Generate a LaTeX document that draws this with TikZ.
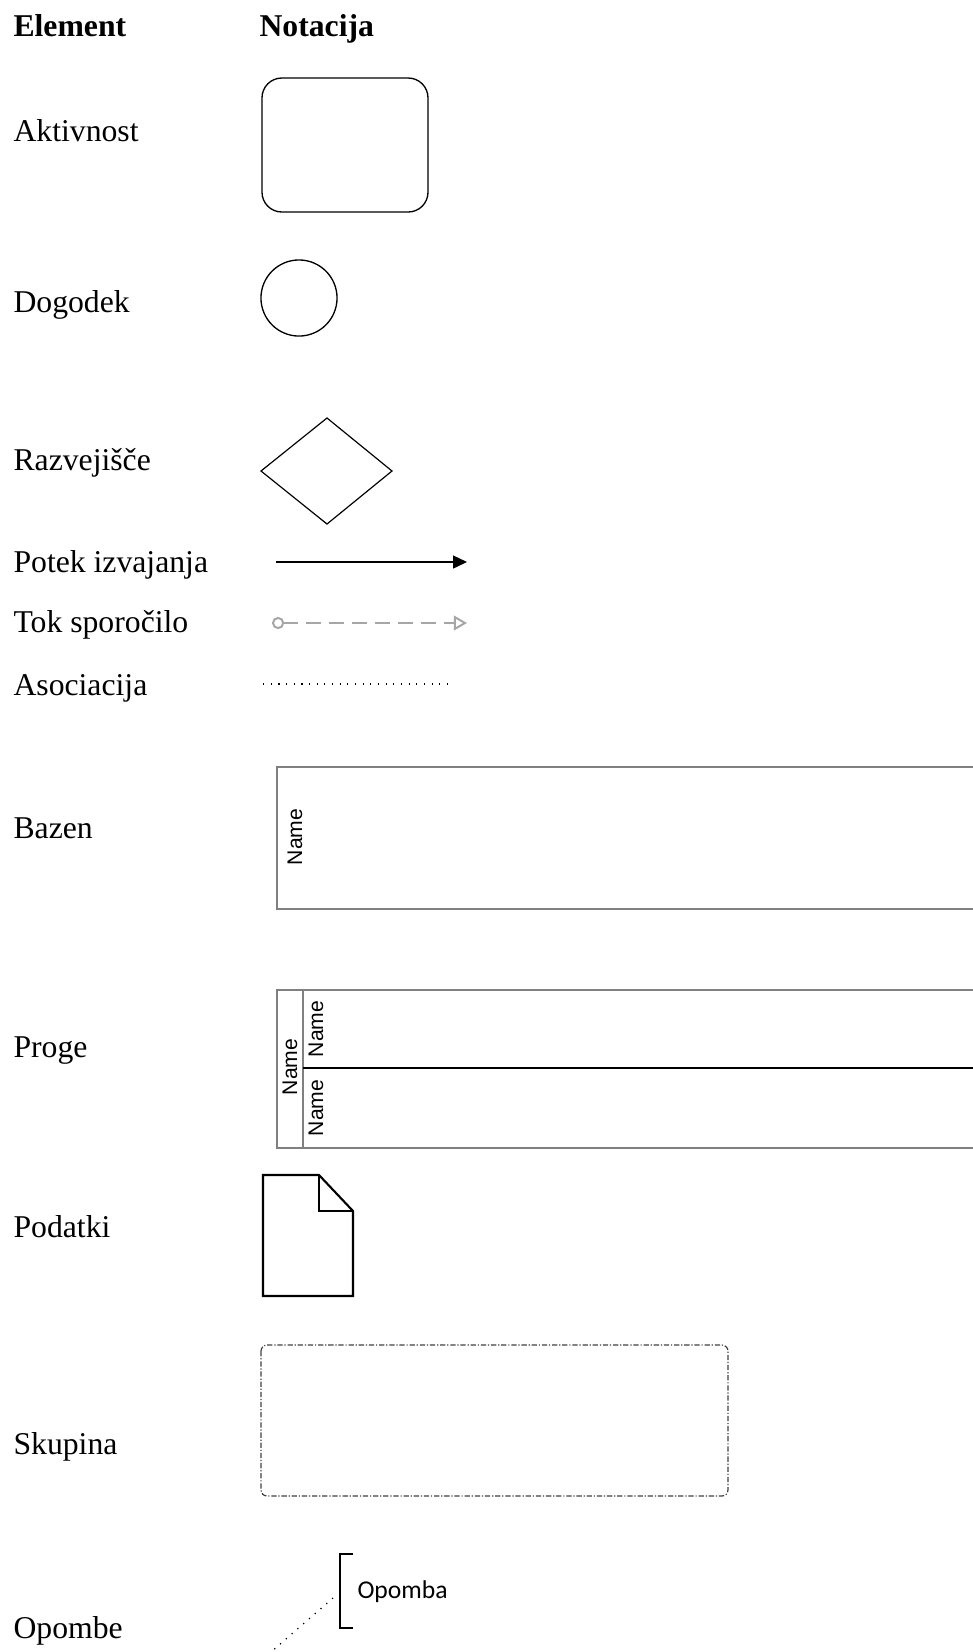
\documentclass[tikz,border=0pt]{standalone}
\usepackage{fontspec}
\setmainfont{Liberation Serif}
\newfontfamily\lanefont{Liberation Sans}
\newfontfamily\notefont{Carlito}
\usetikzlibrary{arrows.meta}

\begin{document}
\begin{tikzpicture}[x=0.3785pt,y=-0.3785pt,
    elem/.style={anchor=base west,inner sep=0pt,font=\fontsize{12}{14}\selectfont},
    head/.style={elem,font=\fontsize{12}{14}\selectfont\bfseries},
    lanename/.style={rotate=90,inner sep=0pt,font=\lanefont\fontsize{8}{9}\selectfont},
    poolline/.style={draw=black!50,line width=0.75pt},
    dots/.style={line width=0.45pt,dash pattern=on 0.45pt off 2.45pt}]
  \useasboundingbox (0,0) rectangle (973,1652);

  \node[head] (hElem) at (13,36) {Element};
  \node[head] (hNot) at (259,36) {Notacija};

  \node[elem] (lAkt) at (13,141) {Aktivnost};
  \draw[line width=0.5pt,rounded corners=7.5pt] (262,78) rectangle (428,212);

  \node[elem] (lDog) at (13,312) {Dogodek};
  \draw[line width=0.5pt] (299,298) circle (14.4pt);

  \node[elem] (lRaz) at (13,470) {Razvejišče};
  \draw[line width=0.45pt] (261,471) -- (327,418) -- (392,471) -- (327,524) -- cycle;

  \node[elem] (lPot) at (13,572) {Potek izvajanja};
  \coordinate (potA) at (276,562);
  \coordinate (potB) at (467,562);
  \draw[line width=0.6pt,-{Triangle[length=5.3pt,width=4.9pt]}] (potA) -- (potB);

  \node[elem] (lTok) at (13,632) {Tok sporočilo};
  \coordinate (tokA) at (272,623);
  \coordinate (tokB) at (467,623);
  \draw[black!35,line width=0.75pt,dash pattern=on 5.7pt off 3pt,
    {Circle[open,length=4.6pt,line width=0.75pt]}-{Triangle[open,length=5pt,width=5.6pt,line width=0.75pt]}] (tokA) -- (tokB);

  \node[elem] (lAso) at (13,695) {Asociacija};
  \coordinate (asoA) at (263,684);
  \coordinate (asoB) at (452,684);
  \draw[dots] (asoA) -- (asoB);

  \node[elem] (lBaz) at (13,838) {Bazen};
  \draw[poolline] (975,767) -- (277,767) -- (277,909) -- (975,909);
  \node[lanename] (bazName) at (295,837) {Name};

  \node[elem] (lPro) at (13,1057) {Proge};
  \draw[poolline] (975,990) -- (277,990) -- (277,1148) -- (975,1148);
  \draw[poolline] (303,990) -- (303,1148);
  \draw[line width=0.75pt] (303,1068) -- (975,1068);
  \node[lanename] (proName) at (290,1067) {Name};
  \node[lanename] (laneA) at (316,1029) {Name};
  \node[lanename] (laneB) at (316,1108) {Name};

  \node[elem] (lPod) at (13,1237) {Podatki};
  \draw[line width=0.8pt] (263,1175) -- (319,1175) -- (353,1211) -- (353,1296) -- (263,1296) -- cycle;
  \draw[line width=0.8pt] (319,1175) -- (319,1211) -- (353,1211);

  \node[elem] (lSku) at (13,1454) {Skupina};
  \draw[black!75,line width=0.45pt,rounded corners=2.3pt,
    dash pattern=on 2pt off 0.7pt on 0.45pt off 0.7pt] (261,1345) rectangle (728,1496);

  \node[elem] (lOpo) at (13,1638) {Opombe};
  \draw[line width=0.7pt] (353,1554) -- (340,1554) -- (340,1628) -- (353,1628);
  \node[anchor=west,inner sep=0pt,font=\notefont\fontsize{9.7}{11}\selectfont] (opomba) at (357,1592) {Opomba};
  \coordinate (noteA) at (333,1598);
  \coordinate (noteB) at (271,1652);
  \draw[dots] (noteA) -- (noteB);
\end{tikzpicture}
\end{document}
